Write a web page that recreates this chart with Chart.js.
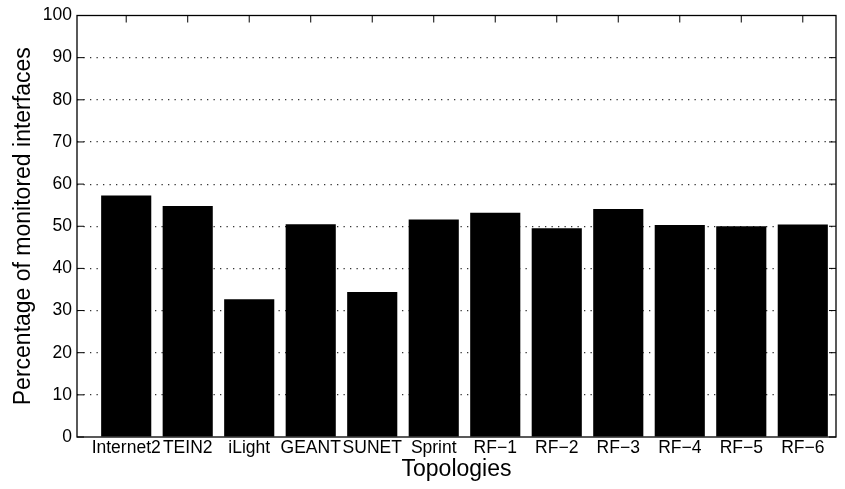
<!DOCTYPE html>
<html>
<head>
<meta charset="utf-8">
<script src="https://cdn.jsdelivr.net/npm/chart.js"></script>
<style>
  html, body { margin: 0; padding: 0; background: #fff; }
  #wrap { width: 845px; height: 489px; }
</style>
</head>
<body>
<div id="wrap"><canvas id="coverageChart" width="845" height="489"></canvas></div>
<script>
// topologies and share of interfaces that end up monitored
const topologies = ['Internet2', 'TEIN2', 'iLight', 'GEANT', 'SUNET', 'Sprint',
  'RF\u22121', 'RF\u22122', 'RF\u22123', 'RF\u22124', 'RF\u22125', 'RF\u22126'];
const monitored = [57.3, 54.8, 32.7, 50.5, 34.4, 51.6, 53.2, 49.5, 54.1, 50.3, 50.0, 50.4];
const yTicks = [0, 10, 20, 30, 40, 50, 60, 70, 80, 90, 100];

const FONT = 'Liberation Sans, Arial, Helvetica, sans-serif';
Chart.defaults.color = '#000';
Chart.defaults.font.family = FONT;

// box around the axes plus inward tick marks (top, left, right)
const boxTicks = {
  id: 'boxTicks',
  afterDatasetsDraw(chart){
    const {ctx, chartArea: a, scales: {x, y}} = chart;
    ctx.save();
    ctx.strokeStyle = '#000';
    ctx.lineWidth = 1.3;
    ctx.strokeRect(a.left, a.top, a.right - a.left, a.bottom - a.top);
    ctx.lineWidth = 1;
    ctx.beginPath();
    x.ticks.forEach(t=>{
      const px = x.getPixelForValue(t.value);
      ctx.moveTo(px, a.top);
      ctx.lineTo(px, a.top + 7);
    });
    y.ticks.forEach(t=>{
      const py = y.getPixelForValue(t.value);
      ctx.moveTo(a.left, py);
      ctx.lineTo(a.left + 7, py);
      ctx.moveTo(a.right, py);
      ctx.lineTo(a.right - 7, py);
    });
    ctx.stroke();
    ctx.restore();
  }
};

const points = monitored.map((v, i) => ({x: i + 1, y: v}));

new Chart(document.getElementById('coverageChart'), {
  type: 'bar',
  data: {
    datasets: [{
      data: points,
      backgroundColor: '#000',
      borderWidth: 0,
      categoryPercentage: 1,
      barPercentage: 0.815
    }]
  },
  options: {
    responsive: false,
    animation: false,
    events: [],
    layout: { padding: { top: 14, right: 9, bottom: 0, left: 0 } },
    plugins: { legend: { display: false }, tooltip: { enabled: false } },
    scales: {
      x: {
        type: 'linear',
        offset: false,
        min: 0.2,
        max: 12.54,
        afterBuildTicks(scale){
          scale.ticks = topologies.map((_, i) => ({value: i + 1}));
        },
        afterFit(scale){ scale.height = 52; },
        grid: { display: false, drawTicks: false, offset: false },
        border: { display: false },
        ticks: {
          autoSkip: false,
          maxRotation: 0,
          padding: 1,
          font: { size: 17.5 },
          callback: v => topologies[v - 1]
        },
        title: {
          display: true,
          text: 'Topologies',
          font: { size: 23 },
          padding: { top: 0, bottom: 6 }
        }
      },
      y: {
        min: 0,
        max: 100,
        afterBuildTicks(scale){
          scale.ticks = yTicks.map(v => ({value: v}));
        },
        afterFit(scale){ scale.width = 77; },
        grid: {
          drawTicks: false,
          lineWidth: 1.2,
          color: c => (c.tick && (c.tick.value === 0 || c.tick.value === 100)) ? 'rgba(0,0,0,0)' : '#333'
        },
        border: { display: false, dash: [1.3, 5.2] },
        ticks: {
          padding: 5,
          font: { size: 17.5 }
        },
        title: {
          display: true,
          text: 'Percentage of monitored interfaces',
          font: { size: 23 },
          padding: { top: 10, bottom: 0 }
        }
      }
    }
  },
  plugins: [boxTicks]
});
</script>
</body>
</html>
